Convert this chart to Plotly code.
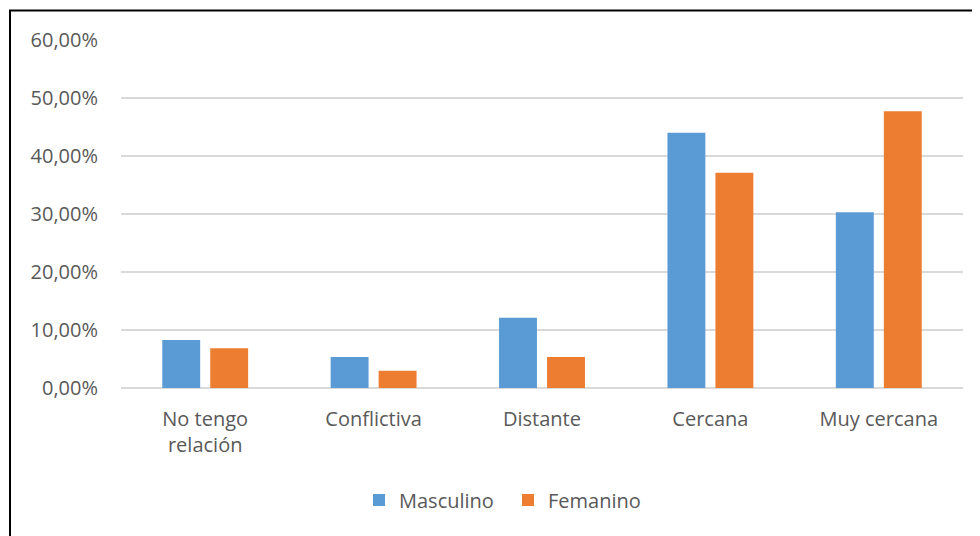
import plotly.graph_objects as go

categories = ["No tengo<br>relación", "Conflictiva", "Distante", "Cercana", "Muy cercana"]
masculino = [0.0828, 0.0534, 0.1212, 0.4402, 0.3029]
femenino = [0.0684, 0.0299, 0.0534, 0.3713, 0.4770]
y_ticks = [0, 0.1, 0.2, 0.3, 0.4, 0.5, 0.6]

FONT = "Open Sans"
TEXT = "#595959"

fig = go.Figure()
fig.add_trace(go.Bar(x=categories, y=masculino, name="Masculino",
                     marker=dict(color="#5B9BD5", line=dict(width=0))))
fig.add_trace(go.Bar(x=categories, y=femenino, name="Femanino",
                     marker=dict(color="#ED7D31", line=dict(width=0))))

# page body has an 8px margin, so the figure is 8px smaller and everything shifted
W, H = 972, 528
L, R, T, B = 113, 17, 32, 148
pw, ph = W - L - R, H - T - B

fig.update_layout(
    width=W, height=H,
    margin=dict(l=L, r=R, t=T, b=B, autoexpand=False),
    paper_bgcolor="white", plot_bgcolor="white",
    separators=",.",
    barmode="group", bargap=0.43, bargroupgap=0.21,
    font=dict(family=FONT, size=20, color=TEXT),
    xaxis=dict(showgrid=False, showline=False, ticks="", ticklabelstandoff=17,
               tickfont=dict(size=20, color=TEXT)),
    yaxis=dict(range=[0, 0.6], tickvals=y_ticks, tickformat=".2%",
               showgrid=True, gridcolor="#D9D9D9", gridwidth=1.5,
               zeroline=True, zerolinecolor="#D9D9D9", zerolinewidth=1.5,
               showline=False, ticks="", ticklabelstandoff=22,
               tickfont=dict(size=20, color=TEXT)),
    legend=dict(orientation="h", x=(373 - 8 - 14 - L) / pw, xanchor="left",
                y=-(492 - (T + ph)) / ph, yanchor="middle",
                font=dict(size=20, color=TEXT), itemwidth=30, entrywidth=104,
                traceorder="normal"),
    shapes=[dict(type="rect", xref="paper", yref="paper",
                 x0=(2 - L) / pw, x1=(990 - L) / pw,
                 y0=-(545 - T - ph) / ph, y1=(T + ph - 2.5) / ph,
                 line=dict(color="black", width=2), layer="below")],
)

fig.write_html("out.html")
